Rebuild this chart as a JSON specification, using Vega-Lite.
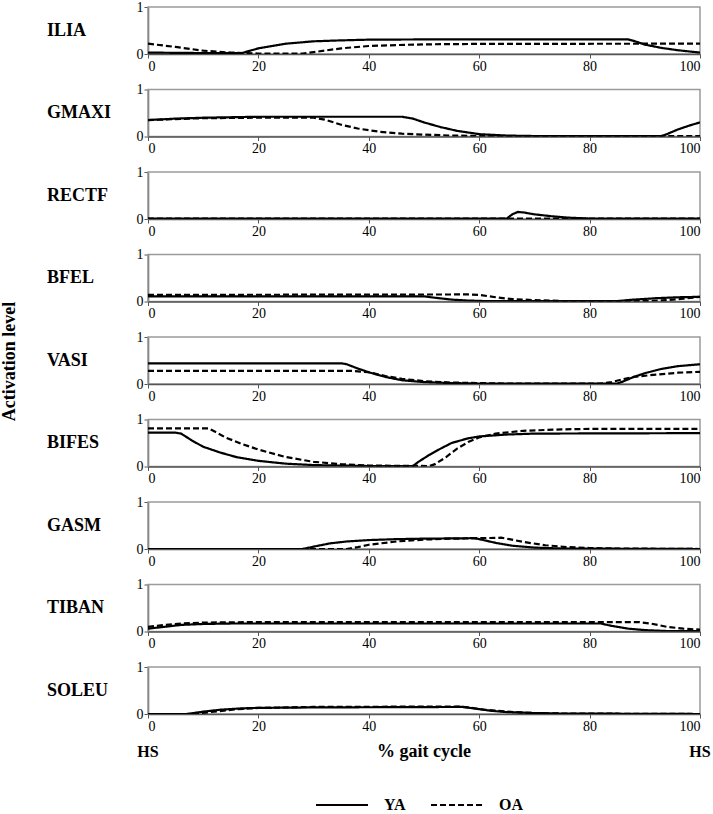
{
  "$schema": "https://vega.github.io/schema/vega-lite/v6.json",
  "background": "white",
  "padding": {"left": 1, "top": 0, "right": 5, "bottom": 0},
  "title": {
    "text": "Activation level",
    "orient": "left",
    "anchor": "middle",
    "offset": 27,
    "dx": 45,
    "font": "Liberation Serif",
    "fontWeight": "bold",
    "fontSize": 18,
    "color": "black"
  },
  "data": {
    "values": [
      {"muscle": "ILIA", "group": "YA", "pct": 0, "act": 0.03},
      {"muscle": "ILIA", "group": "YA", "pct": 10, "act": 0.02},
      {"muscle": "ILIA", "group": "YA", "pct": 17, "act": 0.02},
      {"muscle": "ILIA", "group": "YA", "pct": 20, "act": 0.12},
      {"muscle": "ILIA", "group": "YA", "pct": 25, "act": 0.22},
      {"muscle": "ILIA", "group": "YA", "pct": 30, "act": 0.27},
      {"muscle": "ILIA", "group": "YA", "pct": 35, "act": 0.29},
      {"muscle": "ILIA", "group": "YA", "pct": 40, "act": 0.305},
      {"muscle": "ILIA", "group": "YA", "pct": 50, "act": 0.31},
      {"muscle": "ILIA", "group": "YA", "pct": 87, "act": 0.31},
      {"muscle": "ILIA", "group": "YA", "pct": 88, "act": 0.28},
      {"muscle": "ILIA", "group": "YA", "pct": 90, "act": 0.2},
      {"muscle": "ILIA", "group": "YA", "pct": 93, "act": 0.13},
      {"muscle": "ILIA", "group": "YA", "pct": 96, "act": 0.08},
      {"muscle": "ILIA", "group": "YA", "pct": 100, "act": 0.03},
      {"muscle": "ILIA", "group": "OA", "pct": 0, "act": 0.22},
      {"muscle": "ILIA", "group": "OA", "pct": 5, "act": 0.15},
      {"muscle": "ILIA", "group": "OA", "pct": 10, "act": 0.07},
      {"muscle": "ILIA", "group": "OA", "pct": 15, "act": 0.03},
      {"muscle": "ILIA", "group": "OA", "pct": 20, "act": 0.01},
      {"muscle": "ILIA", "group": "OA", "pct": 28, "act": 0.01},
      {"muscle": "ILIA", "group": "OA", "pct": 30, "act": 0.04},
      {"muscle": "ILIA", "group": "OA", "pct": 35, "act": 0.12},
      {"muscle": "ILIA", "group": "OA", "pct": 40, "act": 0.17},
      {"muscle": "ILIA", "group": "OA", "pct": 45, "act": 0.19},
      {"muscle": "ILIA", "group": "OA", "pct": 50, "act": 0.205},
      {"muscle": "ILIA", "group": "OA", "pct": 60, "act": 0.215},
      {"muscle": "ILIA", "group": "OA", "pct": 100, "act": 0.22},

      {"muscle": "GMAXI", "group": "YA", "pct": 0, "act": 0.35},
      {"muscle": "GMAXI", "group": "YA", "pct": 5, "act": 0.38},
      {"muscle": "GMAXI", "group": "YA", "pct": 10, "act": 0.4},
      {"muscle": "GMAXI", "group": "YA", "pct": 20, "act": 0.42},
      {"muscle": "GMAXI", "group": "YA", "pct": 46, "act": 0.42},
      {"muscle": "GMAXI", "group": "YA", "pct": 48, "act": 0.38},
      {"muscle": "GMAXI", "group": "YA", "pct": 50, "act": 0.3},
      {"muscle": "GMAXI", "group": "YA", "pct": 53, "act": 0.2},
      {"muscle": "GMAXI", "group": "YA", "pct": 56, "act": 0.12},
      {"muscle": "GMAXI", "group": "YA", "pct": 60, "act": 0.05},
      {"muscle": "GMAXI", "group": "YA", "pct": 65, "act": 0.02},
      {"muscle": "GMAXI", "group": "YA", "pct": 70, "act": 0.01},
      {"muscle": "GMAXI", "group": "YA", "pct": 93, "act": 0.01},
      {"muscle": "GMAXI", "group": "YA", "pct": 94, "act": 0.05},
      {"muscle": "GMAXI", "group": "YA", "pct": 96, "act": 0.15},
      {"muscle": "GMAXI", "group": "YA", "pct": 98, "act": 0.23},
      {"muscle": "GMAXI", "group": "YA", "pct": 100, "act": 0.3},
      {"muscle": "GMAXI", "group": "OA", "pct": 0, "act": 0.35},
      {"muscle": "GMAXI", "group": "OA", "pct": 10, "act": 0.39},
      {"muscle": "GMAXI", "group": "OA", "pct": 20, "act": 0.4},
      {"muscle": "GMAXI", "group": "OA", "pct": 30, "act": 0.4},
      {"muscle": "GMAXI", "group": "OA", "pct": 32, "act": 0.36},
      {"muscle": "GMAXI", "group": "OA", "pct": 35, "act": 0.25},
      {"muscle": "GMAXI", "group": "OA", "pct": 38, "act": 0.17},
      {"muscle": "GMAXI", "group": "OA", "pct": 42, "act": 0.1},
      {"muscle": "GMAXI", "group": "OA", "pct": 46, "act": 0.06},
      {"muscle": "GMAXI", "group": "OA", "pct": 50, "act": 0.04},
      {"muscle": "GMAXI", "group": "OA", "pct": 55, "act": 0.02},
      {"muscle": "GMAXI", "group": "OA", "pct": 60, "act": 0.01},
      {"muscle": "GMAXI", "group": "OA", "pct": 100, "act": 0.01},

      {"muscle": "RECTF", "group": "YA", "pct": 0, "act": 0.01},
      {"muscle": "RECTF", "group": "YA", "pct": 65, "act": 0.01},
      {"muscle": "RECTF", "group": "YA", "pct": 66, "act": 0.1},
      {"muscle": "RECTF", "group": "YA", "pct": 67, "act": 0.15},
      {"muscle": "RECTF", "group": "YA", "pct": 68, "act": 0.14},
      {"muscle": "RECTF", "group": "YA", "pct": 70, "act": 0.1},
      {"muscle": "RECTF", "group": "YA", "pct": 73, "act": 0.06},
      {"muscle": "RECTF", "group": "YA", "pct": 76, "act": 0.03},
      {"muscle": "RECTF", "group": "YA", "pct": 80, "act": 0.01},
      {"muscle": "RECTF", "group": "YA", "pct": 100, "act": 0.01},
      {"muscle": "RECTF", "group": "OA", "pct": 0, "act": 0.01},
      {"muscle": "RECTF", "group": "OA", "pct": 100, "act": 0.01},

      {"muscle": "BFEL", "group": "YA", "pct": 0, "act": 0.11},
      {"muscle": "BFEL", "group": "YA", "pct": 50, "act": 0.11},
      {"muscle": "BFEL", "group": "YA", "pct": 52, "act": 0.08},
      {"muscle": "BFEL", "group": "YA", "pct": 55, "act": 0.04},
      {"muscle": "BFEL", "group": "YA", "pct": 58, "act": 0.02},
      {"muscle": "BFEL", "group": "YA", "pct": 61, "act": 0.01},
      {"muscle": "BFEL", "group": "YA", "pct": 85, "act": 0.01},
      {"muscle": "BFEL", "group": "YA", "pct": 88, "act": 0.04},
      {"muscle": "BFEL", "group": "YA", "pct": 92, "act": 0.07},
      {"muscle": "BFEL", "group": "YA", "pct": 96, "act": 0.09},
      {"muscle": "BFEL", "group": "YA", "pct": 100, "act": 0.1},
      {"muscle": "BFEL", "group": "OA", "pct": 0, "act": 0.14},
      {"muscle": "BFEL", "group": "OA", "pct": 58, "act": 0.15},
      {"muscle": "BFEL", "group": "OA", "pct": 60, "act": 0.14},
      {"muscle": "BFEL", "group": "OA", "pct": 63, "act": 0.09},
      {"muscle": "BFEL", "group": "OA", "pct": 66, "act": 0.05},
      {"muscle": "BFEL", "group": "OA", "pct": 70, "act": 0.03},
      {"muscle": "BFEL", "group": "OA", "pct": 75, "act": 0.01},
      {"muscle": "BFEL", "group": "OA", "pct": 90, "act": 0.01},
      {"muscle": "BFEL", "group": "OA", "pct": 94, "act": 0.03},
      {"muscle": "BFEL", "group": "OA", "pct": 97, "act": 0.06},
      {"muscle": "BFEL", "group": "OA", "pct": 100, "act": 0.1},

      {"muscle": "VASI", "group": "YA", "pct": 0, "act": 0.44},
      {"muscle": "VASI", "group": "YA", "pct": 35, "act": 0.44},
      {"muscle": "VASI", "group": "YA", "pct": 36, "act": 0.42},
      {"muscle": "VASI", "group": "YA", "pct": 38, "act": 0.33},
      {"muscle": "VASI", "group": "YA", "pct": 40, "act": 0.25},
      {"muscle": "VASI", "group": "YA", "pct": 43, "act": 0.15},
      {"muscle": "VASI", "group": "YA", "pct": 46, "act": 0.08},
      {"muscle": "VASI", "group": "YA", "pct": 50, "act": 0.04},
      {"muscle": "VASI", "group": "YA", "pct": 55, "act": 0.02},
      {"muscle": "VASI", "group": "YA", "pct": 60, "act": 0.01},
      {"muscle": "VASI", "group": "YA", "pct": 85, "act": 0.01},
      {"muscle": "VASI", "group": "YA", "pct": 86, "act": 0.05},
      {"muscle": "VASI", "group": "YA", "pct": 88, "act": 0.15},
      {"muscle": "VASI", "group": "YA", "pct": 90, "act": 0.23},
      {"muscle": "VASI", "group": "YA", "pct": 93, "act": 0.32},
      {"muscle": "VASI", "group": "YA", "pct": 96, "act": 0.38},
      {"muscle": "VASI", "group": "YA", "pct": 100, "act": 0.42},
      {"muscle": "VASI", "group": "OA", "pct": 0, "act": 0.28},
      {"muscle": "VASI", "group": "OA", "pct": 37, "act": 0.28},
      {"muscle": "VASI", "group": "OA", "pct": 40, "act": 0.25},
      {"muscle": "VASI", "group": "OA", "pct": 43, "act": 0.17},
      {"muscle": "VASI", "group": "OA", "pct": 46, "act": 0.11},
      {"muscle": "VASI", "group": "OA", "pct": 50, "act": 0.06},
      {"muscle": "VASI", "group": "OA", "pct": 55, "act": 0.03},
      {"muscle": "VASI", "group": "OA", "pct": 60, "act": 0.02},
      {"muscle": "VASI", "group": "OA", "pct": 65, "act": 0.01},
      {"muscle": "VASI", "group": "OA", "pct": 82, "act": 0.01},
      {"muscle": "VASI", "group": "OA", "pct": 84, "act": 0.04},
      {"muscle": "VASI", "group": "OA", "pct": 86, "act": 0.1},
      {"muscle": "VASI", "group": "OA", "pct": 88, "act": 0.15},
      {"muscle": "VASI", "group": "OA", "pct": 92, "act": 0.2},
      {"muscle": "VASI", "group": "OA", "pct": 96, "act": 0.24},
      {"muscle": "VASI", "group": "OA", "pct": 100, "act": 0.26},

      {"muscle": "BIFES", "group": "YA", "pct": 0, "act": 0.72},
      {"muscle": "BIFES", "group": "YA", "pct": 5, "act": 0.72},
      {"muscle": "BIFES", "group": "YA", "pct": 6, "act": 0.7},
      {"muscle": "BIFES", "group": "YA", "pct": 8, "act": 0.55},
      {"muscle": "BIFES", "group": "YA", "pct": 10, "act": 0.42},
      {"muscle": "BIFES", "group": "YA", "pct": 13, "act": 0.3},
      {"muscle": "BIFES", "group": "YA", "pct": 16, "act": 0.2},
      {"muscle": "BIFES", "group": "YA", "pct": 20, "act": 0.12},
      {"muscle": "BIFES", "group": "YA", "pct": 25, "act": 0.06},
      {"muscle": "BIFES", "group": "YA", "pct": 30, "act": 0.03},
      {"muscle": "BIFES", "group": "YA", "pct": 40, "act": 0.01},
      {"muscle": "BIFES", "group": "YA", "pct": 48, "act": 0.01},
      {"muscle": "BIFES", "group": "YA", "pct": 49, "act": 0.1},
      {"muscle": "BIFES", "group": "YA", "pct": 51, "act": 0.25},
      {"muscle": "BIFES", "group": "YA", "pct": 53, "act": 0.38},
      {"muscle": "BIFES", "group": "YA", "pct": 55, "act": 0.5},
      {"muscle": "BIFES", "group": "YA", "pct": 58, "act": 0.6},
      {"muscle": "BIFES", "group": "YA", "pct": 60, "act": 0.64},
      {"muscle": "BIFES", "group": "YA", "pct": 65, "act": 0.68},
      {"muscle": "BIFES", "group": "YA", "pct": 70, "act": 0.7},
      {"muscle": "BIFES", "group": "YA", "pct": 100, "act": 0.71},
      {"muscle": "BIFES", "group": "OA", "pct": 0, "act": 0.81},
      {"muscle": "BIFES", "group": "OA", "pct": 11, "act": 0.81},
      {"muscle": "BIFES", "group": "OA", "pct": 12, "act": 0.75},
      {"muscle": "BIFES", "group": "OA", "pct": 14, "act": 0.62},
      {"muscle": "BIFES", "group": "OA", "pct": 17, "act": 0.48},
      {"muscle": "BIFES", "group": "OA", "pct": 20, "act": 0.36},
      {"muscle": "BIFES", "group": "OA", "pct": 25, "act": 0.2},
      {"muscle": "BIFES", "group": "OA", "pct": 30, "act": 0.1},
      {"muscle": "BIFES", "group": "OA", "pct": 35, "act": 0.05},
      {"muscle": "BIFES", "group": "OA", "pct": 40, "act": 0.02},
      {"muscle": "BIFES", "group": "OA", "pct": 51, "act": 0.01},
      {"muscle": "BIFES", "group": "OA", "pct": 52, "act": 0.05},
      {"muscle": "BIFES", "group": "OA", "pct": 54, "act": 0.2},
      {"muscle": "BIFES", "group": "OA", "pct": 56, "act": 0.38},
      {"muscle": "BIFES", "group": "OA", "pct": 58, "act": 0.52},
      {"muscle": "BIFES", "group": "OA", "pct": 60, "act": 0.62},
      {"muscle": "BIFES", "group": "OA", "pct": 63, "act": 0.7},
      {"muscle": "BIFES", "group": "OA", "pct": 68, "act": 0.76},
      {"muscle": "BIFES", "group": "OA", "pct": 75, "act": 0.79},
      {"muscle": "BIFES", "group": "OA", "pct": 80, "act": 0.8},
      {"muscle": "BIFES", "group": "OA", "pct": 100, "act": 0.8},

      {"muscle": "GASM", "group": "YA", "pct": 0, "act": 0},
      {"muscle": "GASM", "group": "YA", "pct": 28, "act": 0},
      {"muscle": "GASM", "group": "YA", "pct": 30, "act": 0.05},
      {"muscle": "GASM", "group": "YA", "pct": 33, "act": 0.12},
      {"muscle": "GASM", "group": "YA", "pct": 36, "act": 0.16},
      {"muscle": "GASM", "group": "YA", "pct": 40, "act": 0.19},
      {"muscle": "GASM", "group": "YA", "pct": 45, "act": 0.21},
      {"muscle": "GASM", "group": "YA", "pct": 50, "act": 0.22},
      {"muscle": "GASM", "group": "YA", "pct": 59, "act": 0.23},
      {"muscle": "GASM", "group": "YA", "pct": 60, "act": 0.21},
      {"muscle": "GASM", "group": "YA", "pct": 63, "act": 0.13},
      {"muscle": "GASM", "group": "YA", "pct": 66, "act": 0.07},
      {"muscle": "GASM", "group": "YA", "pct": 70, "act": 0.03},
      {"muscle": "GASM", "group": "YA", "pct": 75, "act": 0.01},
      {"muscle": "GASM", "group": "YA", "pct": 100, "act": 0},
      {"muscle": "GASM", "group": "OA", "pct": 0, "act": 0},
      {"muscle": "GASM", "group": "OA", "pct": 36, "act": 0},
      {"muscle": "GASM", "group": "OA", "pct": 38, "act": 0.04},
      {"muscle": "GASM", "group": "OA", "pct": 40, "act": 0.09},
      {"muscle": "GASM", "group": "OA", "pct": 45, "act": 0.16},
      {"muscle": "GASM", "group": "OA", "pct": 50, "act": 0.2},
      {"muscle": "GASM", "group": "OA", "pct": 55, "act": 0.22},
      {"muscle": "GASM", "group": "OA", "pct": 60, "act": 0.23},
      {"muscle": "GASM", "group": "OA", "pct": 64, "act": 0.24},
      {"muscle": "GASM", "group": "OA", "pct": 65, "act": 0.22},
      {"muscle": "GASM", "group": "OA", "pct": 68, "act": 0.15},
      {"muscle": "GASM", "group": "OA", "pct": 72, "act": 0.08},
      {"muscle": "GASM", "group": "OA", "pct": 76, "act": 0.04},
      {"muscle": "GASM", "group": "OA", "pct": 80, "act": 0.02},
      {"muscle": "GASM", "group": "OA", "pct": 85, "act": 0.01},
      {"muscle": "GASM", "group": "OA", "pct": 100, "act": 0},

      {"muscle": "TIBAN", "group": "YA", "pct": 0, "act": 0.06},
      {"muscle": "TIBAN", "group": "YA", "pct": 3, "act": 0.1},
      {"muscle": "TIBAN", "group": "YA", "pct": 6, "act": 0.14},
      {"muscle": "TIBAN", "group": "YA", "pct": 10, "act": 0.16},
      {"muscle": "TIBAN", "group": "YA", "pct": 15, "act": 0.17},
      {"muscle": "TIBAN", "group": "YA", "pct": 82, "act": 0.17},
      {"muscle": "TIBAN", "group": "YA", "pct": 84, "act": 0.12},
      {"muscle": "TIBAN", "group": "YA", "pct": 87, "act": 0.06},
      {"muscle": "TIBAN", "group": "YA", "pct": 90, "act": 0.03},
      {"muscle": "TIBAN", "group": "YA", "pct": 94, "act": 0.01},
      {"muscle": "TIBAN", "group": "YA", "pct": 100, "act": 0.01},
      {"muscle": "TIBAN", "group": "OA", "pct": 0, "act": 0.1},
      {"muscle": "TIBAN", "group": "OA", "pct": 3, "act": 0.14},
      {"muscle": "TIBAN", "group": "OA", "pct": 6, "act": 0.17},
      {"muscle": "TIBAN", "group": "OA", "pct": 10, "act": 0.19},
      {"muscle": "TIBAN", "group": "OA", "pct": 20, "act": 0.2},
      {"muscle": "TIBAN", "group": "OA", "pct": 89, "act": 0.2},
      {"muscle": "TIBAN", "group": "OA", "pct": 91, "act": 0.17},
      {"muscle": "TIBAN", "group": "OA", "pct": 94, "act": 0.1},
      {"muscle": "TIBAN", "group": "OA", "pct": 97, "act": 0.06},
      {"muscle": "TIBAN", "group": "OA", "pct": 100, "act": 0.04},

      {"muscle": "SOLEU", "group": "YA", "pct": 0, "act": 0},
      {"muscle": "SOLEU", "group": "YA", "pct": 7, "act": 0},
      {"muscle": "SOLEU", "group": "YA", "pct": 10, "act": 0.05},
      {"muscle": "SOLEU", "group": "YA", "pct": 13, "act": 0.09},
      {"muscle": "SOLEU", "group": "YA", "pct": 17, "act": 0.12},
      {"muscle": "SOLEU", "group": "YA", "pct": 20, "act": 0.13},
      {"muscle": "SOLEU", "group": "YA", "pct": 30, "act": 0.14},
      {"muscle": "SOLEU", "group": "YA", "pct": 57, "act": 0.15},
      {"muscle": "SOLEU", "group": "YA", "pct": 59, "act": 0.12},
      {"muscle": "SOLEU", "group": "YA", "pct": 62, "act": 0.07},
      {"muscle": "SOLEU", "group": "YA", "pct": 65, "act": 0.04},
      {"muscle": "SOLEU", "group": "YA", "pct": 70, "act": 0.02},
      {"muscle": "SOLEU", "group": "YA", "pct": 75, "act": 0.01},
      {"muscle": "SOLEU", "group": "YA", "pct": 100, "act": 0},
      {"muscle": "SOLEU", "group": "OA", "pct": 0, "act": 0},
      {"muscle": "SOLEU", "group": "OA", "pct": 8, "act": 0},
      {"muscle": "SOLEU", "group": "OA", "pct": 12, "act": 0.05},
      {"muscle": "SOLEU", "group": "OA", "pct": 16, "act": 0.1},
      {"muscle": "SOLEU", "group": "OA", "pct": 20, "act": 0.13},
      {"muscle": "SOLEU", "group": "OA", "pct": 30, "act": 0.15},
      {"muscle": "SOLEU", "group": "OA", "pct": 56, "act": 0.16},
      {"muscle": "SOLEU", "group": "OA", "pct": 58, "act": 0.14},
      {"muscle": "SOLEU", "group": "OA", "pct": 61, "act": 0.09},
      {"muscle": "SOLEU", "group": "OA", "pct": 65, "act": 0.05},
      {"muscle": "SOLEU", "group": "OA", "pct": 70, "act": 0.02},
      {"muscle": "SOLEU", "group": "OA", "pct": 75, "act": 0.01},
      {"muscle": "SOLEU", "group": "OA", "pct": 100, "act": 0},

      {"muscle": "SOLEU", "event": "HS", "pct": 0},
      {"muscle": "SOLEU", "event": "HS", "pct": 100}
    ]
  },
  "facet": {
    "row": {
      "field": "muscle",
      "type": "nominal",
      "sort": ["ILIA", "GMAXI", "RECTF", "BFEL", "VASI", "BIFES", "GASM", "TIBAN", "SOLEU"],
      "title": null,
      "header": {"labels": false}
    }
  },
  "spacing": 35.5,
  "bounds": "flush",
  "resolve": {"axis": {"x": "independent"}},
  "spec": {
    "width": 552,
    "height": 47,
    "layer": [
      {
        "transform": [{"filter": "isValid(datum.group)"}],
        "mark": {"type": "line", "color": "black", "strokeWidth": 2.2, "clip": true},
        "encoding": {
          "x": {
            "field": "pct",
            "type": "quantitative",
            "scale": {"domain": [0, 100], "nice": false},
            "axis": {"values": [0, 20, 40, 60, 80, 100], "title": null}
          },
          "y": {
            "field": "act",
            "type": "quantitative",
            "scale": {"domain": [0, 1], "nice": false},
            "axis": {"values": [0, 1], "format": "d", "title": null}
          },
          "strokeDash": {
            "field": "group",
            "type": "nominal",
            "scale": {"domain": ["YA", "OA"], "range": [[1, 0], [6, 3]]},
            "legend": {
              "title": null,
              "orient": "none",
              "legendX": 167,
              "legendY": 771,
              "direction": "horizontal",
              "symbolType": "stroke",
              "symbolSize": 2700,
              "symbolStrokeWidth": 2,
              "symbolStrokeColor": "black",
              "labelFont": "Liberation Serif",
              "labelFontWeight": "bold",
              "labelFontSize": 16,
              "labelColor": "black",
              "labelOffset": 15,
              "columnPadding": 21
            }
          }
        }
      },
      {
        "transform": [{"filter": "datum.group == 'YA' && datum.pct == 0"}],
        "mark": {"type": "text", "font": "Liberation Serif", "fontWeight": "bold", "fontSize": 18, "color": "black", "align": "left", "baseline": "middle"},
        "encoding": {
          "x": {"datum": -18.3, "type": "quantitative"},
          "y": {"datum": 0.5, "type": "quantitative"},
          "text": {"field": "muscle"}
        }
      },
      {
        "transform": [{"filter": "datum.event == 'HS'"}],
        "mark": {"type": "text", "font": "Liberation Serif", "fontWeight": "bold", "fontSize": 16, "color": "black", "baseline": "middle"},
        "encoding": {
          "x": {"field": "pct", "type": "quantitative"},
          "y": {"datum": -0.8, "type": "quantitative"},
          "text": {"field": "event"}
        }
      },
      {
        "transform": [{"filter": "datum.event == 'HS' && datum.pct == 0"}],
        "mark": {"type": "text", "font": "Liberation Serif", "fontWeight": "bold", "fontSize": 18, "color": "black", "baseline": "middle"},
        "encoding": {
          "x": {"datum": 50, "type": "quantitative"},
          "y": {"datum": -0.8, "type": "quantitative"},
          "text": {"value": "% gait cycle"}
        }
      }
    ]
  },
  "config": {
    "view": {"stroke": "#9a9a9a", "strokeWidth": 1.5},
    "axis": {
      "grid": false,
      "domainColor": "#555",
      "domainWidth": 1.5,
      "tickColor": "#555",
      "tickSize": 4,
      "labelFont": "Liberation Serif",
      "labelFontSize": 14,
      "labelColor": "black",
      "labelPadding": 1
    },
    "axisY": {"labelPadding": 1, "labelBaseline": "middle"}
  }
}
